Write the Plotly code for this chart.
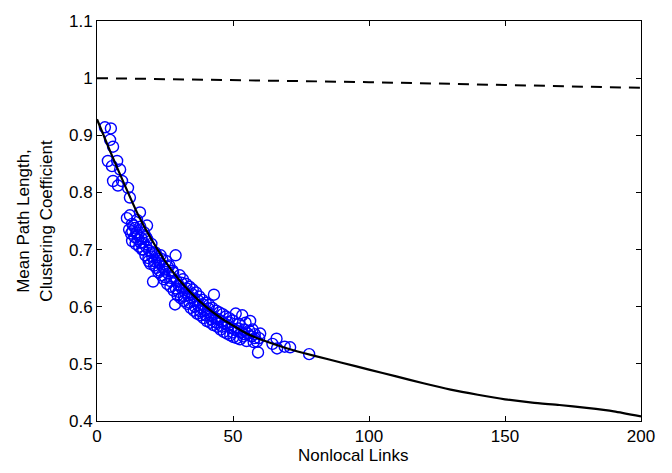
import plotly.graph_objects as go

# Fitted (solid) curve
curve_x = [0, 5, 10, 15, 20, 25, 30, 35, 40, 45, 50, 55, 60, 70, 80, 90, 100,
           110, 120, 130, 140, 150, 160, 170, 180, 190, 200]
curve_y = [0.928, 0.870, 0.815, 0.762, 0.718, 0.680, 0.648, 0.622, 0.600, 0.582,
           0.567, 0.553, 0.543, 0.527, 0.514, 0.502, 0.490, 0.478, 0.466, 0.455,
           0.446, 0.438, 0.432, 0.428, 0.423, 0.417, 0.408]

# Dashed reference curve
dash_x = [0, 50, 100, 150, 200]
dash_y = [1.000, 0.997, 0.993, 0.988, 0.983]

# Scatter data (nonlocal links, normalized measure)
pts_x = [2.9, 5.1, 4.8, 5.9, 4.0, 7.4, 5.5, 8.5, 5.9, 9.2, 7.7, 11.4, 12.1, 12.1, 15.8,
         14.7, 18.4, 12.9,
         11.0, 11.8, 12.5, 12.9, 13.4, 13.8, 14.2, 14.6, 15.1, 15.5, 15.9, 16.3, 16.6,
         17.0, 17.3, 17.8, 18.1, 18.5, 18.9, 19.2, 19.6, 20.0, 20.3, 20.6, 21.0, 21.4,
         21.8, 22.2, 22.6, 23.0, 23.4, 23.8, 24.2, 24.6, 25.0, 25.4, 25.8, 26.2, 26.6,
         27.0, 27.4, 27.8, 28.2, 28.7, 28.9, 29.2, 29.6, 30.0, 30.4, 30.8, 31.2, 31.6,
         32.0, 32.4, 32.8, 33.2, 33.6, 34.0, 34.4, 34.8, 35.2, 35.6, 36.0, 36.4, 36.8,
         37.2, 37.6, 38.0, 38.4, 38.8, 39.2, 39.6, 40.0, 40.4, 40.8, 41.2, 41.6, 42.0,
         42.4, 42.8, 43.0, 43.4, 43.8, 44.2, 44.6, 45.0, 45.4, 45.8, 46.2, 46.6, 47.0,
         47.4, 47.8, 48.2, 48.6, 49.0, 49.4, 49.8, 50.2, 50.6, 51.0, 51.4, 51.8, 52.2,
         52.6, 53.0, 53.4, 53.8, 54.2, 54.6, 55.0, 55.4, 56.3, 56.8, 57.2, 57.6, 58.0,
         58.8, 59.2, 59.6, 60.0, 66.0, 66.2, 71.0, 78.0,
         13.0, 14.0, 15.0, 16.0, 17.0, 18.0, 19.0, 20.0, 21.0, 22.0, 23.0, 24.0, 25.0,
         26.0, 27.0, 28.0, 29.0, 30.0, 31.0, 32.0, 33.0, 34.0, 35.0, 36.0, 37.0, 38.0,
         39.0, 40.0, 41.0, 42.0, 44.0, 46.0, 48.0, 50.0, 52.0, 54.0, 56.0, 58.0, 64.5,
         69.0]
pts_y = [0.914, 0.912, 0.892, 0.880, 0.855, 0.855, 0.846, 0.840, 0.820, 0.820, 0.812,
         0.808, 0.791, 0.760, 0.765, 0.752, 0.742, 0.745,
         0.755, 0.735, 0.728, 0.715, 0.742, 0.722, 0.710, 0.730, 0.718, 0.705, 0.740,
         0.720, 0.700, 0.712, 0.730, 0.690, 0.705, 0.718, 0.685, 0.698, 0.675, 0.710,
         0.688, 0.644, 0.680, 0.695, 0.668, 0.684, 0.660, 0.676, 0.690, 0.655, 0.670,
         0.648, 0.665, 0.680, 0.640, 0.658, 0.672, 0.635, 0.650, 0.663, 0.628, 0.604,
         0.690, 0.645, 0.620, 0.638, 0.655, 0.615, 0.632, 0.648, 0.610, 0.625, 0.640,
         0.605, 0.620, 0.635, 0.598, 0.615, 0.630, 0.593, 0.610, 0.625, 0.588, 0.603,
         0.618, 0.585, 0.598, 0.612, 0.580, 0.594, 0.607, 0.575, 0.590, 0.603, 0.572,
         0.585, 0.598, 0.568, 0.621, 0.580, 0.593, 0.565, 0.578, 0.590, 0.560, 0.574,
         0.587, 0.556, 0.570, 0.583, 0.553, 0.567, 0.580, 0.550, 0.563, 0.576, 0.547,
         0.560, 0.588, 0.545, 0.557, 0.570, 0.543, 0.555, 0.585, 0.548, 0.560, 0.572,
         0.540, 0.553, 0.575, 0.548, 0.560, 0.538, 0.552, 0.539, 0.520, 0.545, 0.553,
         0.544, 0.527, 0.529, 0.517,
         0.732, 0.738, 0.725, 0.712, 0.700, 0.722, 0.680, 0.695, 0.672, 0.690, 0.663,
         0.683, 0.652, 0.670, 0.645, 0.660, 0.632, 0.626, 0.642, 0.618, 0.632, 0.607,
         0.622, 0.600, 0.612, 0.592, 0.604, 0.585, 0.597, 0.578, 0.572, 0.565, 0.573,
         0.555, 0.562, 0.552, 0.558, 0.545, 0.535, 0.530]

FONT = "Liberation Sans, Arial, sans-serif"

fig = go.Figure()
fig.add_trace(go.Scatter(
    x=dash_x, y=dash_y, mode="lines",
    line=dict(color="black", width=2, dash="11px,8px"),
    showlegend=False, hoverinfo="skip"))
fig.add_trace(go.Scatter(
    x=pts_x, y=pts_y, mode="markers",
    marker=dict(symbol="circle-open", size=11, color="#0000ff",
                line=dict(width=1.4, color="#0000ff")),
    showlegend=False))
fig.add_trace(go.Scatter(
    x=curve_x, y=curve_y, mode="lines",
    line=dict(color="black", width=2.2, shape="spline", smoothing=0.6),
    showlegend=False))

axis_common = dict(
    showline=True, linecolor="black", linewidth=1, mirror="ticks",
    ticks="inside", ticklen=5, tickcolor="black", tickwidth=1,
    showgrid=False, zeroline=False,
    tickfont=dict(family=FONT, size=17, color="black"),
)

fig.update_xaxes(range=[0, 200], tickvals=[0, 50, 100, 150, 200], **axis_common)
fig.update_yaxes(range=[0.4, 1.1], tickvals=[0.4, 0.5, 0.6, 0.7, 0.8, 0.9, 1.0, 1.1],
                 ticktext=["0.4", "0.5", "0.6", "0.7", "0.8", "0.9", "1", "1.1"],
                 title=dict(text="Mean Path Length,<br>Clustering Coefficient", standoff=12,
                            font=dict(family=FONT, size=17, color="black")),
                 **axis_common)

fig.add_annotation(text="Nonlocal Links", xref="paper", yref="paper",
                   x=0.472, y=-0.085, xanchor="center", yanchor="middle",
                   showarrow=False, font=dict(family=FONT, size=17, color="black"))

fig.update_layout(
    width=672, height=473,
    margin=dict(l=97, r=31, t=14, b=52),
    plot_bgcolor="white", paper_bgcolor="white",
)

fig.write_html("out.html")
